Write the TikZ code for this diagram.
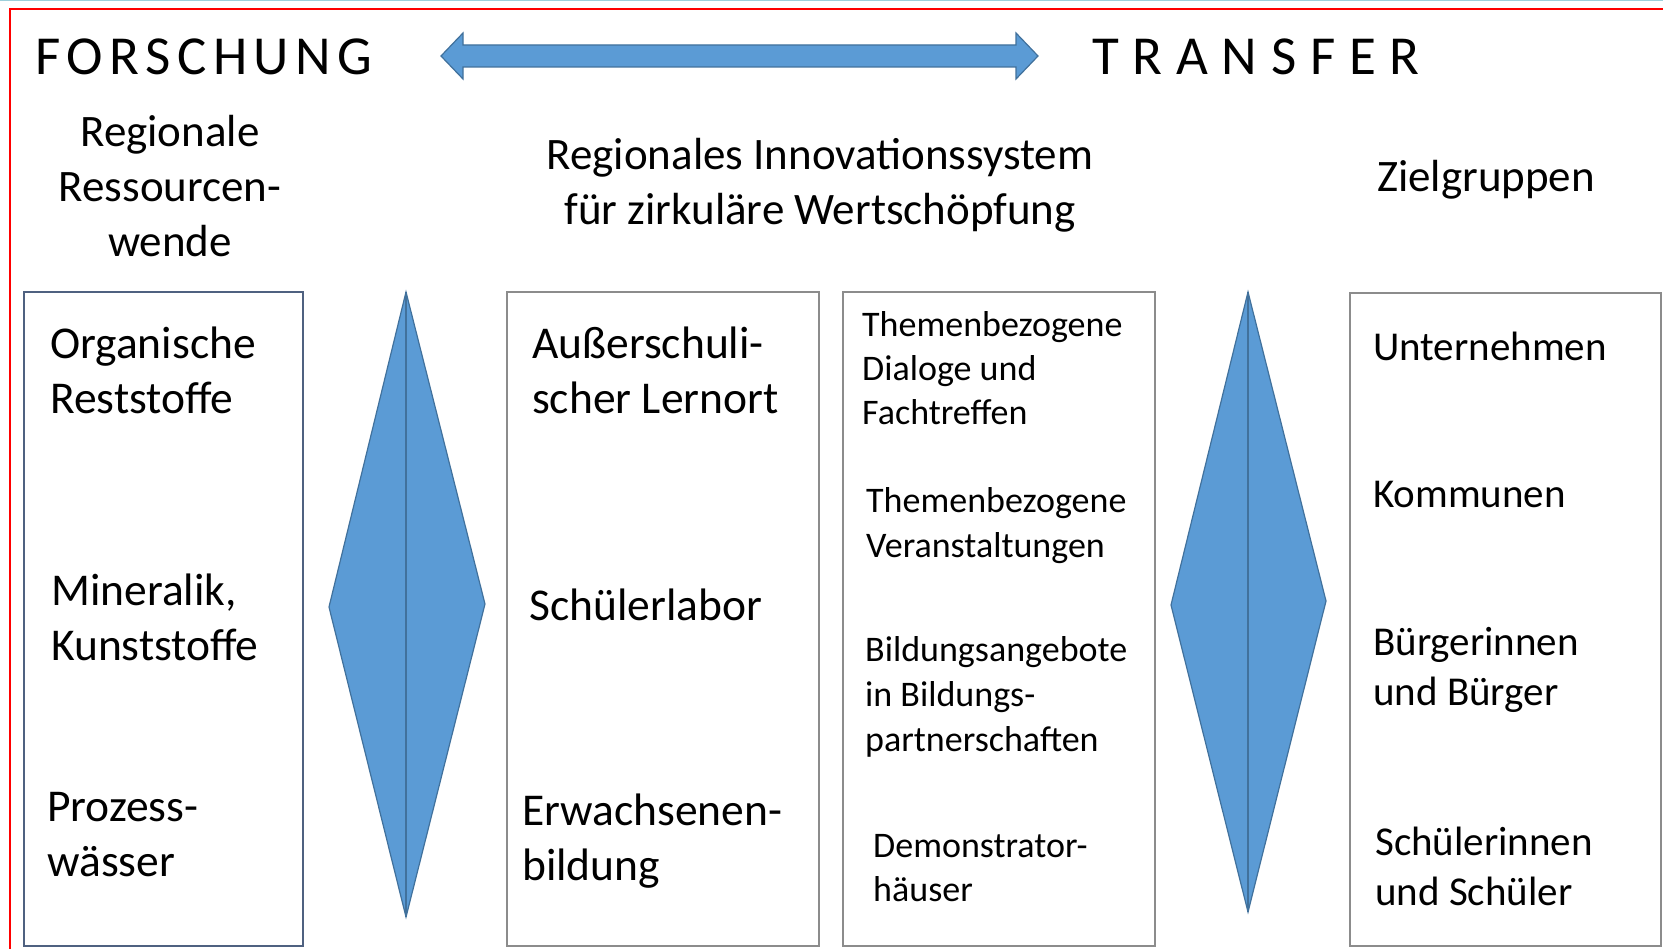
\documentclass[tikz,border=0pt]{standalone}
\usepackage{fontspec}
\setmainfont{Carlito}
\newfontfamily\spacedA[LetterSpace=12]{Carlito}
\newfontfamily\spacedB[LetterSpace=25]{Carlito}
\definecolor{blfill}{HTML}{5B9BD5}
\definecolor{bledge}{HTML}{41719C}
\definecolor{slate}{HTML}{4F6180}
\definecolor{boxgray}{HTML}{8C8C8C}
\definecolor{topline}{HTML}{9DCFDA}
\newcommand\mylines[4]{\fontsize{#1}{#2}\selectfont\begin{tabular}[t]{@{}#3@{}}#4\end{tabular}}
\tikzset{
  txt/.style={inner sep=0pt, anchor=base west, text=black},
  hdr/.style={inner sep=0pt, anchor=base, text=black},
  colbox/.style={draw=boxgray, line width=2pt},
  colboxL/.style={draw=slate, line width=2pt},
  blueshape/.style={fill=blfill, draw=bledge, line width=1.2pt, line join=miter},
  midline/.style={draw=bledge, line width=2pt}
}
\begin{document}
\begin{tikzpicture}[x=1pt,y=-1pt]
\useasboundingbox (0,0) rectangle (1663,949);
\fill[white] (0,0) rectangle (1663,949);
% frame lines
\draw[topline, line width=1.5pt] (0,0.75) -- (1663,0.75);
\draw[red, line width=1.5pt] (10,960) -- (10,9) -- (1670,9);

% titles
\node[txt] (forschung) at (35,75) {\fontsize{55}{66}\selectfont\spacedA FORSCHUNG};
\node[txt] (transfer) at (1092,75) {\fontsize{55}{66}\selectfont\spacedB TRANSFER};

% double arrow
\coordinate (arrL) at (441,56);
\coordinate (arrR) at (1038,56);
\path[blueshape] (arrL) -- (463,33) -- (463,45) -- (1016,45) -- (1016,33) -- (arrR)
  -- (1016,79) -- (1016,67) -- (463,67) -- (463,79) -- cycle;

% column headers
\node[hdr] (hdrL) at (170,147) {\mylines{45}{55}{c}{Regionale\\Ressourcen-\\wende}};
\node[hdr] (hdrM) at (820,170) {\mylines{45}{55}{c}{Regionales Innovationssystem\\für zirkuläre Wertschöpfung}};
\node[hdr] (hdrR) at (1486,192) {\fontsize{45}{55}\selectfont Zielgruppen};

% boxes
\draw[colboxL] (24,292) rectangle (303,946);
\draw[colbox] (507,292) rectangle (819,946);
\draw[colbox] (843,292) rectangle (1155,946);
\draw[colbox] (1350,293) rectangle (1661,946);

% diamonds
\coordinate (d1t) at (406,292);
\coordinate (d1r) at (485,604);
\coordinate (d1b) at (406,917);
\coordinate (d1l) at (329,607);
\path[blueshape] (d1t) -- (d1r) -- (d1b) -- (d1l) -- cycle;
\draw[midline] (d1t) -- (d1b);

\coordinate (d2t) at (1248,292);
\coordinate (d2r) at (1326,601);
\coordinate (d2b) at (1248,912);
\coordinate (d2l) at (1171,605);
\path[blueshape] (d2t) -- (d2r) -- (d2b) -- (d2l) -- cycle;
\draw[midline] (d2t) -- (d2b);

% left box
\node[txt] (l1) at (50,359) {\mylines{45.5}{55}{l}{Organische\\Reststoffe}};
\node[txt] (l2) at (51,605) {\mylines{45.5}{55}{l}{Mineralik,\\Kunststoffe}};
\node[txt] (l3) at (47,821) {\mylines{45.5}{55}{l}{Prozess-\\wässer}};

% middle box 1
\node[txt] (m1) at (532,359) {\mylines{45.5}{55}{l}{Außerschuli-\\scher Lernort}};
\node[txt] (m2) at (529,620) {\fontsize{45.5}{55}\selectfont Schülerlabor};
\node[txt] (m3) at (522,825) {\mylines{45.5}{55}{l}{Erwachsenen-\\bildung}};

% middle box 2
\node[txt] (n1) at (862,337) {\mylines{36}{44}{l}{Themenbezogene\\Dialoge und\\Fachtreffen}};
\node[txt] (n2) at (866,512) {\mylines{36}{45}{l}{Themenbezogene\\Veranstaltungen}};
\node[txt] (n3) at (865,661) {\mylines{36}{45}{l}{Bildungsangebote\\in Bildungs-\\partnerschaften}};
\node[txt] (n4) at (873,857) {\mylines{36}{44}{l}{Demonstrator-\\häuser}};

% right box
\node[txt] (r1) at (1373,361) {\fontsize{41}{50}\selectfont Unternehmen};
\node[txt] (r2) at (1373,507) {\fontsize{41}{50}\selectfont Kommunen};
\node[txt] (r3) at (1373,655) {\mylines{41}{50}{l}{Bürgerinnen\\und Bürger}};
\node[txt] (r4) at (1375,855) {\mylines{41}{50}{l}{Schülerinnen\\und Schüler}};
\end{tikzpicture}
\end{document}
